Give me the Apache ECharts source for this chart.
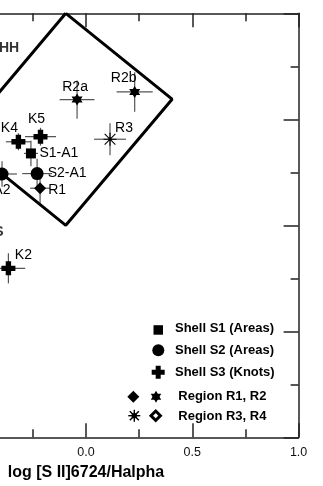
<!DOCTYPE html>
<html><head><meta charset="utf-8">
<script src="https://cdn.jsdelivr.net/npm/echarts@6/dist/echarts.min.js"></script>
<style>html,body{margin:0;padding:0;background:#fff}#c{width:323px;height:486px}</style>
</head><body><div id="c"></div>
<script>
// ---- data ----
const xTicks = [-1.0, -0.5, 0.0, 0.5, 1.0];
const xAxisName = 'log [S II]6724/Halpha';
const pointNames = ['R2a', 'R2b', 'R3', 'K5', 'K4', 'S1-A1', 'S2-A1', 'R1', 'S2-A2', 'K2'];
const pointGroups = ['R2', 'R2', 'R3', 'S3', 'S3', 'S1', 'S2', 'R1', 'S2', 'S3'];
const pointX = [-0.042, 0.229, 0.113, -0.214, -0.318, -0.259, -0.230, -0.216, -0.395, -0.365];
const pointY = [0.593, 0.629, 0.406, 0.418, 0.394, 0.339, 0.244, 0.175, 0.242, -0.203];
const errX = [0.082, 0.085, 0.075, 0.073, 0.059, 0.033, 0.070, 0.047, 0.070, 0.079];
const errY = [0.090, 0.093, 0.075, 0.042, 0.040, 0.060, 0.070, 0.070, 0.060, 0.071];
const boxX = [-0.095, 0.405, -0.095, -0.595, -0.095];
const boxY = [1.0, 0.595, 0.0, 0.405, 1.0];
const regionNames = ['HH', 'HII REGIONS'];
const regionX = [-0.362, -0.388];
const regionY = [0.836, -0.032];
const legendNames = ['Shell S1 (Areas)', 'Shell S2 (Areas)', 'Shell S3 (Knots)', 'Region R1, R2', 'Region R3, R4'];

// ---- styles ----
const FONT = '"Liberation Sans", Arial, sans-serif';
const labelOffsets = {
  'R2a': [-2, -12], 'R2b': [-11, -13.5], 'R3': [14, -11], 'K5': [-4, -17.5], 'K4': [-9, -14],
  'S1-A1': [28, 0], 'S2-A1': [30, 0], 'R1': [17, 1.5], 'S2-A2': [-11, 16], 'K2': [15, -13.5]
};
const PLUS = 'path://M4,0H9V4H13V9H9V13H4V9H0V4H4Z';
const STAR6 = 'path://M0,-10L8.66,5L-8.66,5Z M0,10L-8.66,-5L8.66,-5Z';
const ASTER = 'path://M0,11H24V13H0Z M11,0H13V24H11Z M1.4,2.8L2.8,1.4L22.6,21.2L21.2,22.6Z M21.2,1.4L22.6,2.8L2.8,22.6L1.4,21.2Z M9,9H15V15H9Z';
const groupSymbol = {
  S1: {symbol: 'rect', size: 10},
  S2: {symbol: 'circle', size: 13},
  S3: {symbol: PLUS, size: 14},
  R1: {symbol: 'diamond', size: 12},
  R2: {symbol: STAR6, size: [11, 12]},
  R3: {symbol: ASTER, size: 13}
};

const chart = echarts.init(document.getElementById('c'));

const markerSeries = Object.keys(groupSymbol).map(g => ({
  type: 'scatter', name: g, z: 5,
  symbol: groupSymbol[g].symbol, symbolSize: groupSymbol[g].size,
  itemStyle: {color: '#000', opacity: 1},
  label: {
    show: true, position: 'inside', color: '#000', fontFamily: FONT, fontSize: 14,
    formatter: p => p.data.value[2]
  },
  data: pointNames.map((n, i) => pointGroups[i] === g ? {value: [pointX[i], pointY[i], n], label: {offset: labelOffsets[n]}} : null).filter(Boolean),
  emphasis: {disabled: true}
}));

const axisCommon = {
  type: 'value', min: -1, max: 1, interval: 0.5,
  splitLine: {show: false},
  axisLine: {onZero: false, lineStyle: {color: '#222', width: 1.5}},
  axisTick: {inside: true, length: 14, lineStyle: {color: '#222', width: 1.5}},
  minorTick: {show: true, splitNumber: 2, length: 8, lineStyle: {color: '#222', width: 1.5}}
};

// legend icon helpers (pixel positions of the legend block)
function plusPts(cx, cy, s) {
  const a = s * 4 / 13, b = s * 9 / 13, x0 = cx - s / 2, y0 = cy - s / 2;
  return [[a,0],[b,0],[b,a],[s,a],[s,b],[b,b],[b,s],[a,s],[a,b],[0,b],[0,a],[a,a]].map(p => [x0 + p[0], y0 + p[1]]);
}
function asterEls(cx, cy, r) {
  const d = r * 0.75, st = {stroke: '#000', lineWidth: 1.4};
  return [
    {type: 'line', shape: {x1: cx - r, y1: cy, x2: cx + r, y2: cy}, style: st},
    {type: 'line', shape: {x1: cx, y1: cy - r, x2: cx, y2: cy + r}, style: st},
    {type: 'line', shape: {x1: cx - d, y1: cy - d, x2: cx + d, y2: cy + d}, style: st},
    {type: 'line', shape: {x1: cx - d, y1: cy + d, x2: cx + d, y2: cy - d}, style: st},
    {type: 'rect', shape: {x: cx - 2.5, y: cy - 2.5, width: 5, height: 5}, style: {fill: '#000'}}
  ];
}

chart.setOption({
  animation: false,
  backgroundColor: '#fff',
  grid: {left: -126.6, right: 24.4, top: 13.3, bottom: 48.7, containLabel: false, outerBoundsMode: 'none'},
  xAxis: [
    Object.assign({}, axisCommon, {
      position: 'bottom',
      axisLabel: {show: true, color: '#111', fontFamily: FONT, fontSize: 12.5, margin: 9,
        formatter: v => (xTicks.indexOf(v) >= 0 ? v.toFixed(1) : '')},
      name: xAxisName, nameLocation: 'middle', nameGap: 24,
      nameTextStyle: {color: '#000', fontFamily: FONT, fontSize: 16, fontWeight: 'bold'}
    }),
    Object.assign({}, axisCommon, {position: 'top', axisLabel: {show: false}})
  ],
  yAxis: [
    Object.assign({}, axisCommon, {position: 'right', axisTick: {inside: true, length: 15, lineStyle: {color: '#222', width: 1.5}}, axisLabel: {show: false}})
  ],
  graphic: [
    {type: 'rect', shape: {x: 153.5, y: 325.2, width: 9.5, height: 9.5}, style: {fill: '#000'}},
    {type: 'circle', shape: {cx: 158.3, cy: 350.3, r: 6}, style: {fill: '#000'}},
    {type: 'polygon', shape: {points: plusPts(158.2, 372.3, 13)}, style: {fill: '#000'}},
    {type: 'polygon', shape: {points: [[133.3, 390.7], [139.3, 396.7], [133.3, 402.7], [127.3, 396.7]]}, style: {fill: '#000'}},
    {type: 'polygon', shape: {points: [[156, 390.7], [161.2, 399.7], [150.8, 399.7]]}, style: {fill: '#000'}},
    {type: 'polygon', shape: {points: [[156, 402.7], [150.8, 393.7], [161.2, 393.7]]}, style: {fill: '#000'}},
    ...asterEls(134.3, 415.7, 6),
    {type: 'polygon', shape: {points: [[155.7, 411], [160.4, 415.7], [155.7, 420.4], [151, 415.7]]}, style: {fill: '#fff', stroke: '#000', lineWidth: 3}},
    ...legendNames.map((t, i) => ({
      type: 'text', x: i < 3 ? 175 : 178.3, y: [328.5, 350.7, 372.7, 396.5, 416][i],
      style: {text: t, fill: '#000', font: 'bold 13px ' + FONT, verticalAlign: 'middle', align: 'left'}
    }))
  ],
  series: [
    {
      type: 'custom', name: 'errors', z: 2,
      renderItem: (params, api) => {
        const x = api.value(0), y = api.value(1), ex = api.value(2), ey = api.value(3);
        const l = api.coord([x - ex, y]), r = api.coord([x + ex, y]);
        const t = api.coord([x, y + ey]), b = api.coord([x, y - ey]);
        const st = {stroke: '#555', lineWidth: 1.2};
        return {type: 'group', children: [
          {type: 'line', shape: {x1: l[0], y1: l[1], x2: r[0], y2: r[1]}, style: st},
          {type: 'line', shape: {x1: t[0], y1: t[1], x2: b[0], y2: b[1]}, style: st}
        ]};
      },
      data: pointX.map((x, i) => [x, pointY[i], errX[i], errY[i]])
    },
    {
      type: 'line', name: 'box', z: 3, symbol: 'none', silent: true,
      lineStyle: {color: '#000', width: 3},
      data: boxX.map((x, i) => [x, boxY[i]])
    },
    {
      type: 'scatter', name: 'regions', symbolSize: 0, silent: true,
      label: {show: true, position: 'inside', fontFamily: FONT, fontSize: 14, fontWeight: 'bold', color: '#000',
        formatter: p => p.data.value[2]},
      data: regionNames.map((n, i) => ({value: [regionX[i], regionY[i], n],
        label: {align: i === 0 ? 'center' : 'right'}}))
    },
    ...markerSeries
  ]
});
</script></body></html>
